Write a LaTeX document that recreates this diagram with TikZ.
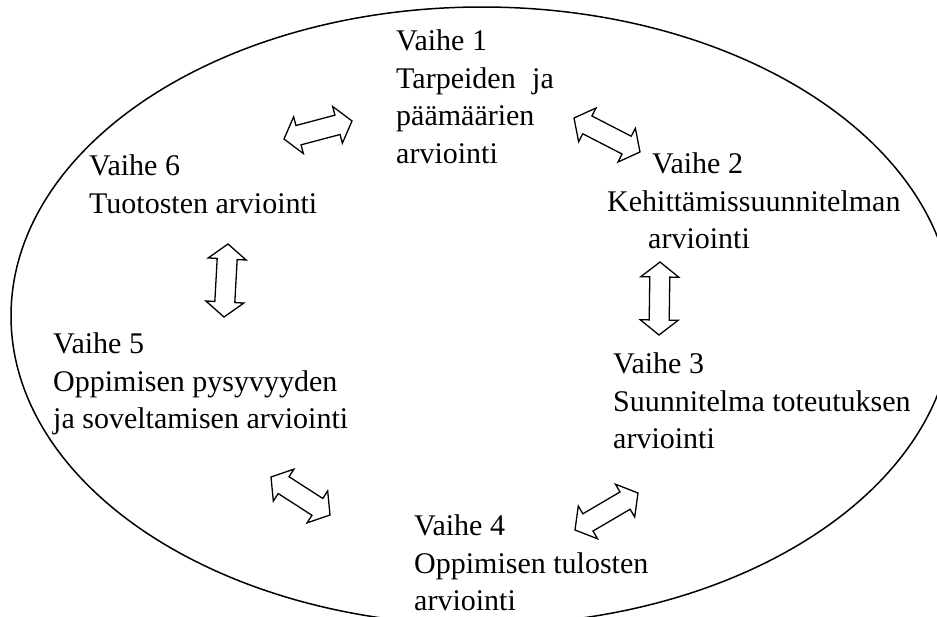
\documentclass[tikz,border=0pt]{standalone}
\usepackage{fontspec}
\setmainfont{Liberation Serif}
\usetikzlibrary{calc}
\tikzset{
  stagetext/.style={anchor=north west, inner sep=0pt, align=left,
    font=\fontsize{30}{37.5}\selectfont},
  blk/.style={draw=black, fill=white, line width=1.3pt, line join=miter},
  ring/.style={draw=black, line width=1.5pt}
}
\newcommand\blockarrow[2]{%
  \draw[blk] (#1)
    -- ($(#1)!15pt!(#2)!19pt!90:(#2)$)
    -- ($(#1)!15pt!(#2)!10pt!90:(#2)$)
    -- ($(#2)!15pt!(#1)!10pt!-90:(#1)$)
    -- ($(#2)!15pt!(#1)!19pt!-90:(#1)$)
    -- (#2)
    -- ($(#2)!15pt!(#1)!19pt!90:(#1)$)
    -- ($(#2)!15pt!(#1)!10pt!90:(#1)$)
    -- ($(#1)!15pt!(#2)!10pt!-90:(#2)$)
    -- ($(#1)!15pt!(#2)!19pt!-90:(#2)$)
    -- cycle;}
\begin{document}
\begin{tikzpicture}[x=1pt,y=-1pt]
\useasboundingbox (0,0) rectangle (937,616);
\begin{scope}
\clip (0,0) rectangle (937,616);
\draw[ring] (482,316) ellipse [x radius=471pt, y radius=309pt];
\end{scope}

\node[stagetext] (v1) at (396,29.5) {Vaihe 1\\Tarpeiden\hspace{0.55em}ja\\päämäärien\\arviointi};
\node[stagetext] (v2) at (607,152.5) {\hspace*{45pt}Vaihe 2\\Kehittämissuunnitelman\\\hspace*{41pt}arviointi};
\node[stagetext] (v3) at (613,352.5) {Vaihe 3\\Suunnitelma toteutuksen\\arviointi};
\node[stagetext] (v4) at (414,514.5) {Vaihe 4\\Oppimisen tulosten\\arviointi};
\node[stagetext] (v5) at (53,332.5) {Vaihe 5\\Oppimisen pysyvyyden\\ja soveltamisen arviointi};
\node[stagetext] (v6) at (89,154.5) {Vaihe 6\\Tuotosten arviointi};

\coordinate (a61s) at (284,139);
\coordinate (a61e) at (352,121);
\coordinate (a12s) at (574,118);
\coordinate (a12e) at (640,152);
\coordinate (a23s) at (660,262);
\coordinate (a23e) at (659,335);
\coordinate (a34s) at (638,493);
\coordinate (a34e) at (575,530);
\coordinate (a45s) at (330,515);
\coordinate (a45e) at (271,477);
\coordinate (a56s) at (224,317);
\coordinate (a56e) at (228,244);

\blockarrow{a61s}{a61e}
\blockarrow{a12s}{a12e}
\blockarrow{a23s}{a23e}
\blockarrow{a34s}{a34e}
\blockarrow{a45s}{a45e}
\blockarrow{a56s}{a56e}
\end{tikzpicture}
\end{document}
